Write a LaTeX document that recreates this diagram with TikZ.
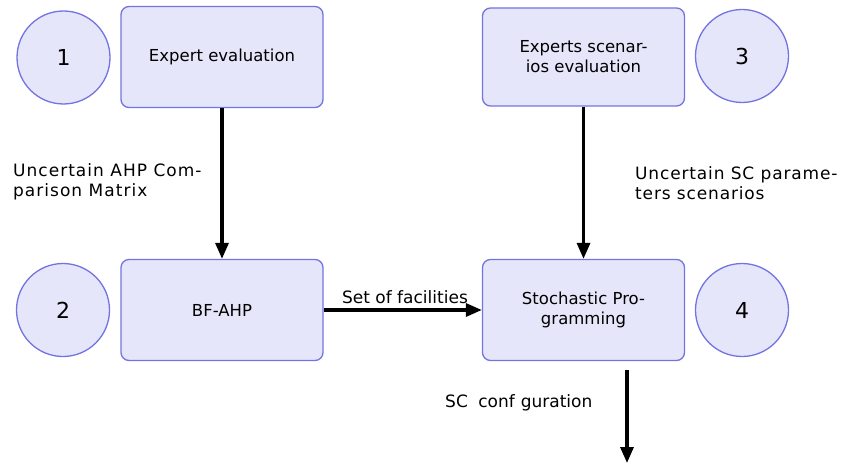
\documentclass[tikz,border=0pt]{standalone}
\usepackage{fontspec}
\setmainfont{DejaVu Sans}
\usetikzlibrary{arrows.meta}
\definecolor{boxfill}{RGB}{230,230,250}
\definecolor{boxline}{RGB}{115,115,225}
\begin{document}
\begin{tikzpicture}[x=1pt,y=-1pt,
  procbox/.style={draw=boxline, fill=boxfill, line width=1.3pt, rounded corners=8pt,
    minimum width=202pt, minimum height=101pt, align=center,
    font=\fontsize{16.5}{20}\selectfont, inner sep=0pt},
  numcirc/.style={circle, draw=boxline, fill=boxfill, line width=1.3pt,
    minimum size=93pt, inner sep=0pt, font=\fontsize{22}{26}\selectfont},
  flow/.style={-{Triangle[length=16pt,width=13pt]}, line width=3.2pt},
  lbl/.style={font=\fontsize{17}{20}\selectfont, align=left, inner sep=0pt}]
\useasboundingbox (0,0) rectangle (848,465);

\node[procbox] (b1) at (222,57) {Expert evaluation};
\node[numcirc] (c1) at (63.5,57.5) {1};
\node[procbox, minimum height=98pt] (b3) at (583.5,57) {Experts scenar-\\ios evaluation};
\node[numcirc] (c3) at (742,56) {3};
\node[procbox] (b2) at (222,310) {BF-AHP};
\node[numcirc] (c2) at (63,310) {2};
\node[procbox] (b4) at (583.5,310) {Stochastic Pro-\\gramming};
\node[numcirc] (c4) at (742,310) {4};

\coordinate (outs) at (627,370);
\coordinate (oute) at (627,463);

\draw[flow] (b1.south) -- (b2.north);
\draw[flow] (b3.south) -- (b4.north);
\draw[flow] (b2.east) -- (b4.west);
\draw[flow] (outs) -- (oute);

\node[lbl, anchor=west] (l1) at (13,182) {\addfontfeature{LetterSpace=6}Uncertain AHP Com-\\\addfontfeature{LetterSpace=6}parison Matrix};
\node[lbl, anchor=west] (l2) at (635,183) {\addfontfeature{LetterSpace=5}Uncertain SC parame-\\\addfontfeature{LetterSpace=5}ters scenarios};
\node[lbl] (l3) at (405,297) {Set of facilities};
\node[lbl, anchor=west] (l4) at (445,403) {SC\hspace{0.3em} conf\hspace{0.35em}guration};
\end{tikzpicture}
\end{document}
